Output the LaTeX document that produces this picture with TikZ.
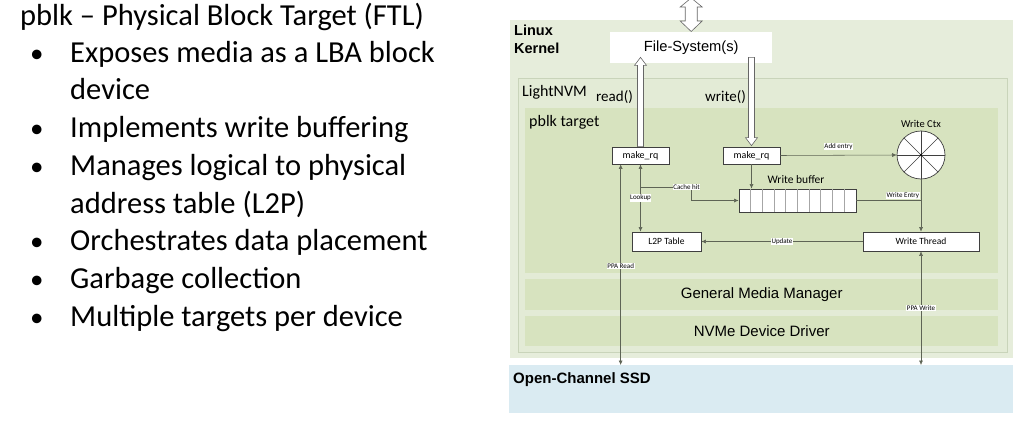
\documentclass[tikz,border=0pt]{standalone}
\usepackage{fontspec}
\setmainfont{Carlito}
\newfontfamily\arialf{Liberation Sans}
\usetikzlibrary{arrows.meta,calc}
\definecolor{kern}{HTML}{E6EDDB}
\definecolor{lnvm}{HTML}{E3EBD6}
\definecolor{lnvmb}{HTML}{C9D4BA}
\definecolor{pblk}{HTML}{D7E3BF}
\definecolor{ssd}{HTML}{DAEBF2}
\definecolor{conncol}{HTML}{5E6455}
\definecolor{boxb}{HTML}{3F3F3F}
\begin{document}
\begin{tikzpicture}[x=1pt,y=-1pt,
  panel/.style={anchor=north west,inner sep=0,draw=none},
  txt/.style={inner sep=0,anchor=base west,font=\fontsize{30.5}{34}\selectfont},
  dot/.style={inner sep=0,anchor=base west,font=\fontsize{27}{30}\selectfont},
  wbox/.style={draw=boxb,fill=white,line width=0.7pt,inner sep=0,font=\fontsize{9.5}{11}\selectfont},
  conn/.style={draw=conncol,line width=0.55pt},
  tip/.style={-{Latex[length=4.5pt,width=4pt]}},
  dtip/.style={{Latex[length=4.5pt,width=4pt]}-{Latex[length=4.5pt,width=4pt]}},
  lbl/.style={fill=white,inner sep=0.6pt,font=\fontsize{7}{8}\selectfont},
  hollow/.style={draw=gray!80!black,fill=white,line width=0.6pt,line join=miter}]
\useasboundingbox (0,0) rectangle (1023,423);
% ---------- left text ----------
\node[txt] (title) at (20,25) {pblk – Physical Block Target (FTL)};
\node[dot] (d1) at (30,62) {•};
\node[txt] (t1) at (70,62) {Exposes media as a LBA block};
\node[txt] (t1b) at (70,99) {device};
\node[dot] (d2) at (30,137) {•};
\node[txt] (t2) at (70,137) {Implements write buffering};
\node[dot] (d3) at (30,175) {•};
\node[txt] (t3) at (70,175) {Manages logical to physical};
\node[txt] (t3b) at (70,213) {address table (L2P)};
\node[dot] (d4) at (30,250) {•};
\node[txt] (t4) at (70,250) {Orchestrates data placement};
\node[dot] (d5) at (30,288) {•};
\node[txt] (t5) at (70,288) {Garbage collection};
\node[dot] (d6) at (30,326) {•};
\node[txt] (t6) at (70,326) {Multiple targets per device};
% ---------- panels ----------
\node[panel,fill=kern,minimum width=503,minimum height=338] (kernel) at (510,20) {};
\node[panel,fill=ssd,minimum width=504,minimum height=48] (ssd) at (509,365) {};
\node[panel,fill=lnvm,draw=lnvmb,line width=0.6pt,minimum width=489,minimum height=274] (lnvm) at (518,78) {};
\node[panel,fill=pblk,minimum width=473,minimum height=165] (pblk) at (525,108) {};
\node[panel,fill=pblk,minimum width=473,minimum height=31] (gmm) at (525,279) {};
\node[panel,fill=pblk,minimum width=473,minimum height=30] (nvme) at (525,316) {};
\node[panel,fill=white,minimum width=162,minimum height=31] (fs) at (610,32) {};
% ---------- panel texts ----------
\node[inner sep=0,anchor=base west,font=\arialf\bfseries\fontsize{14.5}{16}\selectfont] (lk) at (514,35) {Linux};
\node[inner sep=0,anchor=base west,font=\arialf\bfseries\fontsize{14.5}{16}\selectfont] (lk2) at (514,53) {Kernel};
\node[inner sep=0,font=\arialf\fontsize{14.7}{16}\selectfont] (fst) at (fs.center) {File-System(s)};
\node[inner sep=0,anchor=base west,font=\fontsize{16}{18}\selectfont] (lnt) at (522,96) {LightNVM};
\node[inner sep=0,anchor=base west,font=\fontsize{15}{17}\selectfont] (rd) at (596,101) {read()};
\node[inner sep=0,anchor=base west,font=\fontsize{15}{17}\selectfont] (wr) at (705,101) {write()};
\node[inner sep=0,anchor=base west,font=\fontsize{16}{18}\selectfont] (pt) at (529,126) {pblk target};
\node[inner sep=0,font=\arialf\fontsize{15}{17}\selectfont] (gmmt) at (gmm.center) {General Media Manager};
\node[inner sep=0,font=\arialf\fontsize{15}{17}\selectfont] (nvmet) at (nvme.center) {NVMe Device Driver};
\node[inner sep=0,anchor=base west,font=\arialf\bfseries\fontsize{15}{17}\selectfont] (ssdt) at (513,383) {Open-Channel SSD};
% ---------- boxes ----------
\node[wbox,minimum width=57,minimum height=17,font=\fontsize{10}{11}\selectfont] (rq1) at (640.5,155.5) {make\_rq};
\node[wbox,minimum width=57,minimum height=17,font=\fontsize{10}{11}\selectfont] (rq2) at (751.5,155.5) {make\_rq};
\node[wbox,minimum width=117,minimum height=23] (wb) at (797.5,200.5) {};
\foreach \i in {1,...,9} \draw[gray!70,line width=0.5pt] ($(wb.north west)+(\i*11.7,0)$) -- ($(wb.south west)+(\i*11.7,0)$);
\node[inner sep=0,font=\fontsize{11.5}{13}\selectfont] (wbt) at (796,180) {Write buffer};
\node[wbox,minimum width=69,minimum height=19] (l2p) at (666.5,241.5) {L2P Table};
\node[wbox,minimum width=116,minimum height=19] (wt) at (921,241.5) {Write Thread};
\node[circle,draw=boxb,fill=white,line width=0.7pt,minimum size=48,inner sep=0] (wctx) at (921,155) {};
\foreach \a in {0,45,90,135} \draw[boxb,line width=0.6pt] (wctx.\a) -- (wctx.\a+180);
\fill[black] (wctx.center) circle (1.2);
\node[inner sep=0,font=\fontsize{10.5}{12}\selectfont] (wct) at (921,124) {Write Ctx};
% ---------- hollow arrows ----------
\coordinate (rtip) at ($(rq1.north |- fs.south)+(0,-6)$);
\draw[hollow] ($(rq1.north)+(-3,0)$) -- ($(rtip)+(-3,8)$) -- ($(rtip)+(-6,8)$) -- (rtip) -- ($(rtip)+(6,8)$) -- ($(rtip)+(3,8)$) -- ($(rq1.north)+(3,0)$) -- cycle;
\coordinate (wst) at ($(rq2.north |- fs.south)+(0,-6)$);
\draw[hollow] ($(wst)+(-3,0)$) -- ($(rq2.north)+(-3,-9)$) -- ($(rq2.north)+(-6,-9)$) -- ($(rq2.north)+(0,-1)$) -- ($(rq2.north)+(6,-9)$) -- ($(rq2.north)+(3,-9)$) -- ($(wst)+(3,0)$) -- cycle;
\coordinate (ttop) at ($(fs.north)+(0,-34)$);
\draw[hollow] ($(ttop)+(0,0)$) -- ($(ttop)+(11,9)$) -- ($(ttop)+(6,9)$) -- ($(fs.north)+(6,-11)$) -- ($(fs.north)+(11,-11)$) -- ($(fs.north)+(0,-0.5)$) -- ($(fs.north)+(-11,-11)$) -- ($(fs.north)+(-6,-11)$) -- ($(ttop)+(-6,9)$) -- ($(ttop)+(-11,9)$) -- cycle;
% ---------- connectors ----------
\draw[conn,tip] (rq2.east) -- (wctx.west) node[lbl,midway,yshift=9pt] (ae) {Add entry};
\draw[conn,tip] (rq2.south) -- (rq2.south |- wb.north);
\coordinate (chs) at ($(rq1.south)+(0,23)$);
\draw[conn,tip] (chs) -- ++(51,0) |- (wb.west);
\node[lbl] (ch) at ($(chs)+(46,0)$) {Cache hit};
\draw[conn,dtip] (rq1.south) -- (rq1.south |- l2p.north) node[lbl,midway] (lu) {Lookup};
\coordinate (wej) at (wb.east -| wctx.south);
\draw[conn] (wb.east) -- (wej) node[lbl,pos=0.72,yshift=5pt] (we) {Write Entry};
\draw[conn,tip] (wctx.south) -- (wt.north);
\draw[conn,tip] (wt.west) -- (l2p.east) node[lbl,midway] (up) {Update};
\coordinate (pr) at ($(rq1.south west)+(9,0)$);
\draw[conn,dtip] (pr) -- (pr |- ssd.north);
\node[lbl] (prl) at ($(pr)+(0,102)$) {PPA Read};
\draw[conn,dtip] (wt.south) -- (wt.south |- ssd.north);
\node[lbl] (pwl) at ($(wt.south)+(0,57)$) {PPA Write};
\end{tikzpicture}
\end{document}
